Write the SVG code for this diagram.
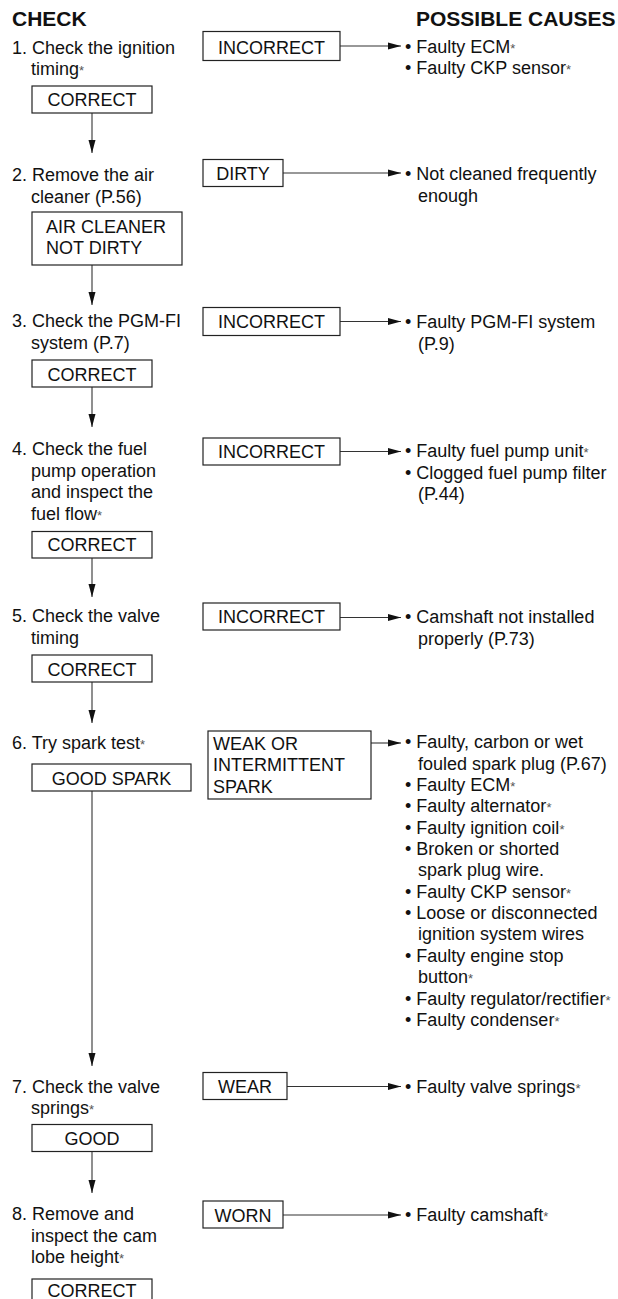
<svg xmlns="http://www.w3.org/2000/svg" width="618" height="1299" viewBox="0 0 618 1299">
<style>
text{font-family:"Liberation Sans",Arial,sans-serif;font-size:18px;fill:#111}
.h{font-weight:bold;font-size:21px}
.s{font-size:13px;fill:#555}
.box{fill:#fff;stroke:#222;stroke-width:1.2}
.c{text-anchor:middle}
.ln{fill:none;stroke:#333;stroke-width:1.1}
</style>
<defs>
<marker id="ah" markerUnits="userSpaceOnUse" markerWidth="14" markerHeight="8" refX="13" refY="4" orient="auto">
<path d="M0,0.5 L13,4 L0,7.5 z" fill="#111"/>
</marker>
</defs>
<rect width="618" height="1299" fill="#fff"/>
<g id="headers">
<text class="h" x="12" y="25.5">CHECK</text>
<text class="h" x="416" y="25.5">POSSIBLE CAUSES</text>
</g>
<g id="connectors">
<line class="ln" x1="92" y1="113" x2="92" y2="153" marker-end="url(#ah)"/>
<line class="ln" x1="92" y1="265" x2="92" y2="305" marker-end="url(#ah)"/>
<line class="ln" x1="92" y1="387" x2="92" y2="427" marker-end="url(#ah)"/>
<line class="ln" x1="92" y1="558" x2="92" y2="597" marker-end="url(#ah)"/>
<line class="ln" x1="92" y1="682" x2="92" y2="723" marker-end="url(#ah)"/>
<line class="ln" x1="92" y1="791" x2="92" y2="1066" marker-end="url(#ah)"/>
<line class="ln" x1="92" y1="1152" x2="92" y2="1193" marker-end="url(#ah)"/>
<line class="ln" x1="340" y1="46" x2="401" y2="46" marker-end="url(#ah)"/>
<line class="ln" x1="283" y1="173" x2="401" y2="173" marker-end="url(#ah)"/>
<line class="ln" x1="340" y1="321.5" x2="401" y2="321.5" marker-end="url(#ah)"/>
<line class="ln" x1="340" y1="451.5" x2="401" y2="451.5" marker-end="url(#ah)"/>
<line class="ln" x1="340" y1="617.5" x2="401" y2="617.5" marker-end="url(#ah)"/>
<line class="ln" x1="371" y1="743" x2="401" y2="743" marker-end="url(#ah)"/>
<line class="ln" x1="287" y1="1086.5" x2="401" y2="1086.5" marker-end="url(#ah)"/>
<line class="ln" x1="283" y1="1215" x2="401" y2="1215" marker-end="url(#ah)"/>
</g>
<g id="step1">
<text x="12" y="54">1. Check the ignition</text>
<text x="31" y="75">timing<tspan class="s">*</tspan></text>
</g>
<g id="incorrect1"><rect class="box" x="203" y="31.5" width="137" height="29"/><text class="c" x="271.5" y="53.5">INCORRECT</text></g>
<g id="causes1">
<text x="405" y="53">• Faulty ECM<tspan class="s">*</tspan></text>
<text x="405" y="74">• Faulty CKP sensor<tspan class="s">*</tspan></text>
</g>
<g id="correct1"><rect class="box" x="32" y="86" width="120" height="27"/><text class="c" x="92" y="106">CORRECT</text></g>

<g id="step2">
<text x="12" y="181">2. Remove the air</text>
<text x="31" y="202.5">cleaner (P.56)</text>
</g>
<g id="dirty"><rect class="box" x="203" y="159.5" width="80" height="27"/><text class="c" x="243" y="179.5">DIRTY</text></g>
<g id="causes2">
<text x="405" y="180">• Not cleaned frequently</text>
<text x="418" y="201.5">enough</text>
</g>
<g id="notdirty"><rect class="box" x="32" y="212" width="150" height="53"/><text x="46" y="232.5">AIR CLEANER</text><text x="46" y="254">NOT DIRTY</text></g>

<g id="step3">
<text x="12" y="327">3. Check the PGM-FI</text>
<text x="31" y="348.5">system (P.7)</text>
</g>
<g id="incorrect3"><rect class="box" x="203" y="307.5" width="137" height="28"/><text class="c" x="271.5" y="328">INCORRECT</text></g>
<g id="causes3">
<text x="405" y="328">• Faulty PGM-FI system</text>
<text x="418" y="349.5">(P.9)</text>
</g>
<g id="correct3"><rect class="box" x="32" y="360" width="120" height="27"/><text class="c" x="92" y="380.5">CORRECT</text></g>

<g id="step4">
<text x="12" y="455">4. Check the fuel</text>
<text x="31" y="476.5">pump operation</text>
<text x="31" y="498">and inspect the</text>
<text x="31" y="519.5">fuel flow<tspan class="s">*</tspan></text>
</g>
<g id="incorrect4"><rect class="box" x="203" y="438" width="137" height="27"/><text class="c" x="271.5" y="458">INCORRECT</text></g>
<g id="causes4">
<text x="405" y="457">• Faulty fuel pump unit<tspan class="s">*</tspan></text>
<text x="405" y="478.5">• Clogged fuel pump filter</text>
<text x="418" y="500">(P.44)</text>
</g>
<g id="correct4"><rect class="box" x="32" y="531.5" width="120" height="26.5"/><text class="c" x="92" y="551">CORRECT</text></g>

<g id="step5">
<text x="12" y="622">5. Check the valve</text>
<text x="31" y="643.5">timing</text>
</g>
<g id="incorrect5"><rect class="box" x="203" y="603" width="137" height="27"/><text class="c" x="271.5" y="623">INCORRECT</text></g>
<g id="causes5">
<text x="405" y="623">• Camshaft not installed</text>
<text x="418" y="644.5">properly (P.73)</text>
</g>
<g id="correct5"><rect class="box" x="32" y="655" width="120" height="27"/><text class="c" x="92" y="675.5">CORRECT</text></g>

<g id="step6">
<text x="12" y="748.5">6. Try spark test<tspan class="s">*</tspan></text>
</g>
<g id="weak"><rect class="box" x="208" y="731" width="163" height="68"/><text x="213" y="749.5">WEAK OR</text><text x="213" y="771">INTERMITTENT</text><text x="213" y="792.5">SPARK</text></g>
<g id="causes6">
<text x="405" y="748">• Faulty, carbon or wet</text>
<text x="418" y="769.5">fouled spark plug (P.67)</text>
<text x="405" y="791">• Faulty ECM<tspan class="s">*</tspan></text>
<text x="405" y="812">• Faulty alternator<tspan class="s">*</tspan></text>
<text x="405" y="833.5">• Faulty ignition coil<tspan class="s">*</tspan></text>
<text x="405" y="855">• Broken or shorted</text>
<text x="418" y="876">spark plug wire.</text>
<text x="405" y="897.5">• Faulty CKP sensor<tspan class="s">*</tspan></text>
<text x="405" y="919">• Loose or disconnected</text>
<text x="418" y="940">ignition system wires</text>
<text x="405" y="961.5">• Faulty engine stop</text>
<text x="418" y="983">button<tspan class="s">*</tspan></text>
<text x="405" y="1004.5">• Faulty regulator/rectifier<tspan class="s">*</tspan></text>
<text x="405" y="1026">• Faulty condenser<tspan class="s">*</tspan></text>
</g>
<g id="goodspark"><rect class="box" x="32" y="764" width="159" height="27"/><text class="c" x="111.5" y="784.5">GOOD SPARK</text></g>

<g id="step7">
<text x="12" y="1092.5">7. Check the valve</text>
<text x="31" y="1114">springs<tspan class="s">*</tspan></text>
</g>
<g id="wear"><rect class="box" x="203" y="1072.5" width="84" height="27"/><text class="c" x="245" y="1093">WEAR</text></g>
<g id="causes7"><text x="405" y="1092.5">• Faulty valve springs<tspan class="s">*</tspan></text></g>
<g id="good"><rect class="box" x="32" y="1124.5" width="120" height="27"/><text class="c" x="92" y="1145">GOOD</text></g>

<g id="step8">
<text x="12" y="1220">8. Remove and</text>
<text x="31" y="1241.5">inspect the cam</text>
<text x="31" y="1263">lobe height<tspan class="s">*</tspan></text>
</g>
<g id="worn"><rect class="box" x="203" y="1201" width="80" height="27"/><text class="c" x="243" y="1221.5">WORN</text></g>
<g id="causes8"><text x="405" y="1221">• Faulty camshaft<tspan class="s">*</tspan></text></g>
<g id="correct8"><rect class="box" x="32" y="1279" width="120" height="27"/><text class="c" x="92" y="1297">CORRECT</text></g>
</svg>
